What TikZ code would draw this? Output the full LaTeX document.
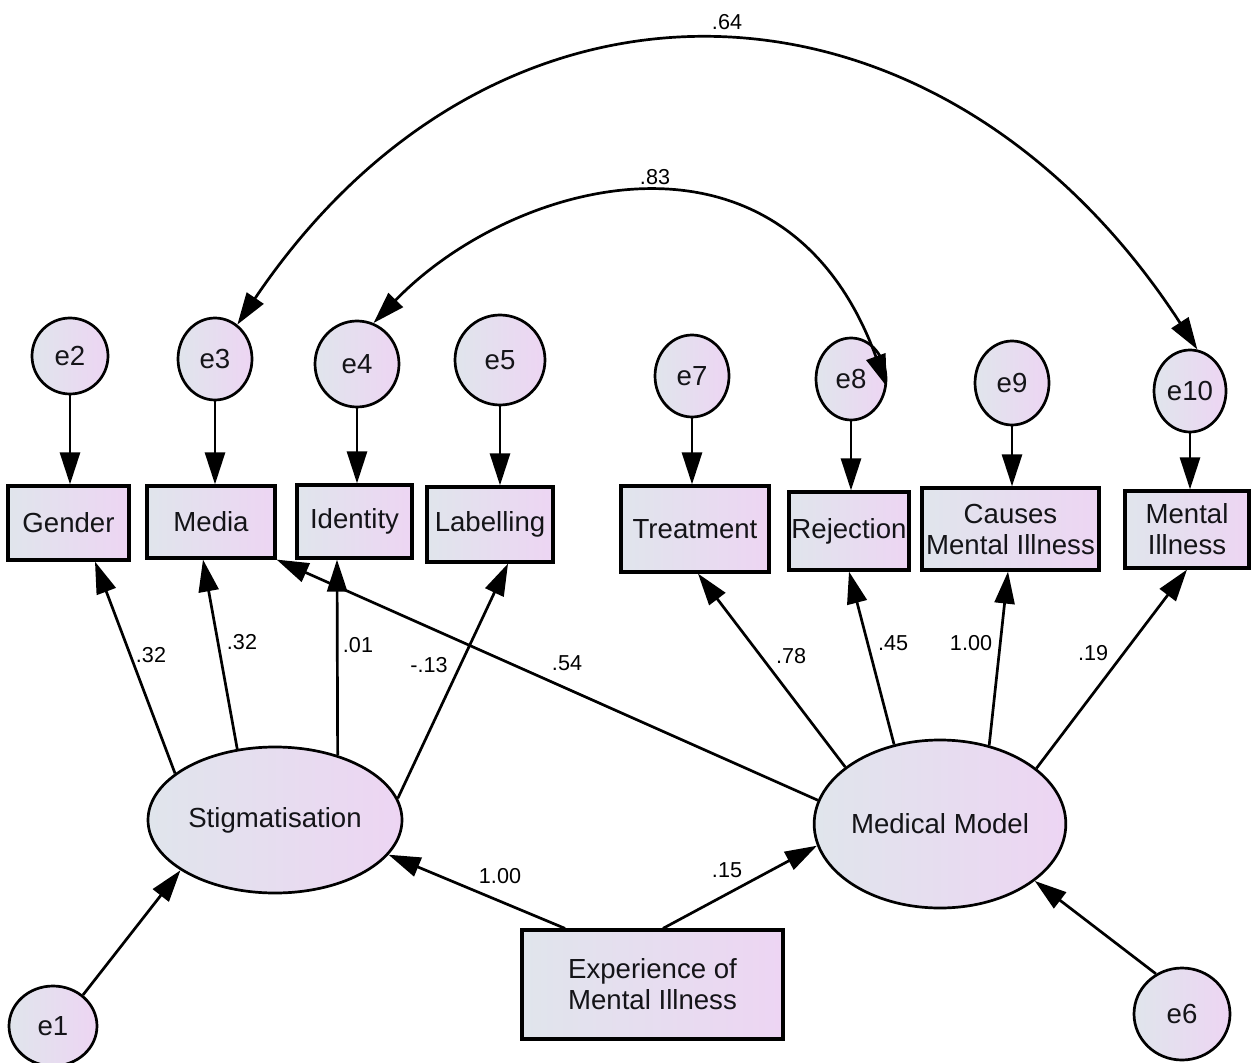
\documentclass[tikz,border=0pt]{standalone}
\usepackage{fontspec}
\setmainfont{Liberation Sans}
\usetikzlibrary{arrows.meta,shapes.geometric}
\definecolor{fillL}{RGB}{224,229,236}
\definecolor{fillR}{RGB}{237,213,243}
\definecolor{ink}{RGB}{20,20,24}

\begin{document}
\begin{tikzpicture}[x=0.5pt,y=0.5pt,
  every node/.style={inner sep=0pt, text=ink},
  latent/.style={ellipse, draw=black, line width=1.35pt,
    left color=fillL, right color=fillR,
    font=\fontsize{13.8}{15.5}\selectfont},
  obsbox/.style={rectangle, draw=black, line width=1.6pt,
    left color=fillL, right color=fillR, align=center,
    font=\fontsize{13.8}{15.5}\selectfont},
  coef/.style={font=\fontsize{10.8}{12}\selectfont, text=black},
  regarrow/.style={line width=1.35pt, -{Triangle[length=16pt,width=10pt]}},
  covarrow/.style={line width=1.35pt,
    {Triangle[length=16pt,width=10pt]}-{Triangle[length=16pt,width=10pt]}},
]
\useasboundingbox (0,0) rectangle (1251,-1063);

% error terms
\node[latent, minimum width=44pt, minimum height=40pt] (e1) at (53,-1026) {e1};
\node[latent, minimum width=38pt, minimum height=38pt] (e2) at (70,-356) {e2};
\node[latent, minimum width=37pt, minimum height=41pt] (e3) at (215,-359) {e3};
\node[latent, minimum width=42pt, minimum height=43pt] (e4) at (357,-364) {e4};
\node[latent, minimum width=45pt, minimum height=45pt] (e5) at (500,-360) {e5};
\node[latent, minimum width=48pt, minimum height=46pt] (e6) at (1182,-1014) {e6};
\node[latent, minimum width=37pt, minimum height=41pt] (e7) at (692,-376) {e7};
\node[latent, minimum width=35pt, minimum height=41pt] (e8) at (851,-379) {e8};
\node[latent, minimum width=37pt, minimum height=42pt] (e9) at (1012,-383) {e9};
\node[latent, minimum width=36pt, minimum height=41pt] (e10) at (1190,-391) {e10};

% latent factors
\node[latent, minimum width=127pt, minimum height=73pt] (stig) at (275,-820) {Stigmatisation};
\node[latent, minimum width=118pt, minimum height=84pt] (mm) at (940,-824) {Medical Model};

% observed variables
\node[obsbox, minimum width=60.5pt, minimum height=37pt] (gender) at (68.5,-523) {Gender};
\node[obsbox, minimum width=64pt, minimum height=36pt] (media) at (211,-522) {Media};
\node[obsbox, minimum width=57.5pt, minimum height=36.5pt] (identity) at (354.5,-521.5) {Identity};
\node[obsbox, minimum width=63pt, minimum height=37.5pt] (labelling) at (490,-524.5) {Labelling};
\node[obsbox, minimum width=74pt, minimum height=43pt] (treatment) at (695,-529) {Treatment};
\node[obsbox, minimum width=60pt, minimum height=39pt] (rejection) at (849,-531) {Rejection};
\node[obsbox, minimum width=88.5pt, minimum height=41pt] (causes) at (1010.5,-529) {Causes\\Mental Illness};
\node[obsbox, minimum width=62pt, minimum height=38.5pt] (mental) at (1187,-529.5) {Mental\\Illness};
\node[obsbox, minimum width=130.5pt, minimum height=54.5pt] (exp) at (652.5,-984.5) {Experience of\\Mental Illness};

% error terms into indicators
\draw[regarrow] (e2) -- (e2 |- gender.north);
\draw[regarrow] (e3) -- (e3 |- media.north);
\draw[regarrow] (e4) -- (e4 |- identity.north);
\draw[regarrow] (e5) -- (e5 |- labelling.north);
\draw[regarrow] (e7) -- (e7 |- treatment.north);
\draw[regarrow] (e8) -- (e8 |- rejection.north);
\draw[regarrow] (e9) -- (e9 |- causes.north);
\draw[regarrow] (e10) -- (e10 |- mental.north);

% Stigmatisation loadings
\draw[regarrow] (stig.155) -- ([xshift=13.25pt]gender.south);
\draw[regarrow] (stig.118) -- ([xshift=-4pt]media.south);
\draw[regarrow] (stig.46) -- ([xshift=-8.75pt]identity.south);
\draw[regarrow] (stig.10) -- ([xshift=9pt]labelling.south);

% Medical Model loadings
\draw[regarrow] (mm.169) -- (media.south east);
\draw[regarrow] (mm.149.5) -- ([xshift=1.5pt]treatment.south);
\draw[regarrow] (mm.120.4) -- (rejection.south);
\draw[regarrow] (mm.58.8) -- ([xshift=-1.25pt]causes.south);
\draw[regarrow] (mm.30.8) -- (mental.south);

% structural paths
\draw[regarrow] ([xshift=-43.75pt]exp.north) -- (stig.-17.8);
\draw[regarrow] ([xshift=5.25pt]exp.north) -- (mm.190.3);
\draw[regarrow] (e1.46) -- (stig.208);
\draw[regarrow] (e6.123.4) -- (mm.-31);

% covariances
\draw[covarrow] (e3.57) .. controls +(56:235pt) and +(123:235pt) .. (e10.80);
\draw[covarrow] (e4.68) .. controls +(46:100pt) and +(110:150pt) .. (e8.-12);

% coefficients
\node[coef] (c64) at (727,-22) {.64};
\node[coef] (c83) at (655,-177) {.83};
\node[coef] (cgen) at (151,-655) {.32};
\node[coef] (cmed) at (242,-642) {.32};
\node[coef] (cide) at (358,-645) {.01};
\node[coef] (clab) at (429,-665) {-.13};
\node[coef] (cmm) at (567,-663) {.54};
\node[coef] (ctre) at (791,-656) {.78};
\node[coef] (crej) at (893,-643) {.45};
\node[coef] (ccau) at (971,-643) {1.00};
\node[coef] (cmen) at (1093,-653) {.19};
\node[coef] (cst) at (500,-876) {1.00};
\node[coef] (cmmx) at (727,-870) {.15};
\end{tikzpicture}
\end{document}
